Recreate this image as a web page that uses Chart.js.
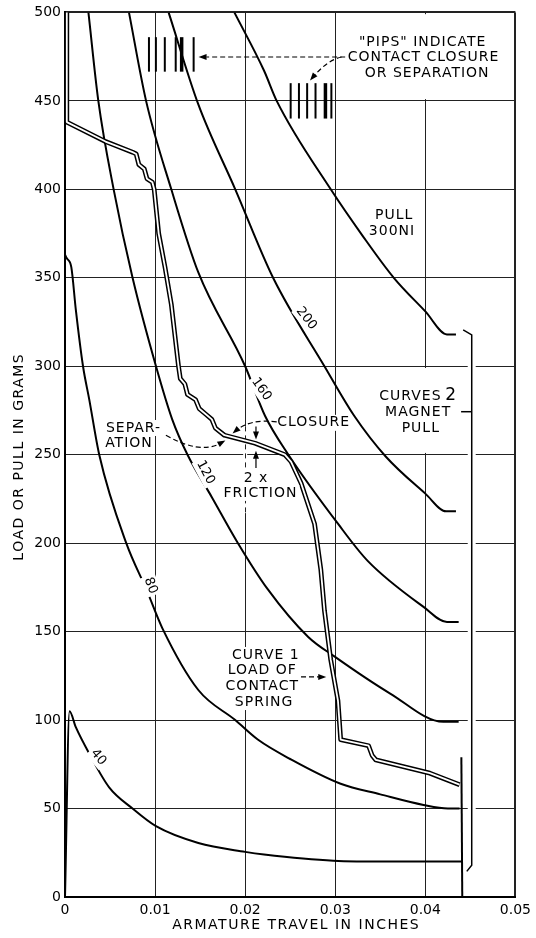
<!DOCTYPE html>
<html>
<head>
<meta charset="utf-8">
<script src="https://cdn.jsdelivr.net/npm/chart.js@4/dist/chart.umd.min.js"></script>
<style>
  html, body { margin: 0; padding: 0; background: #fff; }
  canvas { display: block; }
</style>
</head>
<body>
<canvas id="relayChart" width="536" height="938"></canvas>
<script>
// Relay armature: load of contact spring vs magnet pull (grams) over travel (inches)

const xTickValues = [0, 0.01, 0.02, 0.03, 0.04, 0.05];
const xTickLabels = ["0", "0.01", "0.02", "0.03", "0.04", "0.05"];
const yTickValues = [0, 50, 100, 150, 200, 250, 300, 350, 400, 450, 500];

const pullLevels = ["40", "80", "120", "160", "200", "300"];

// curves 2: magnet pull at each NI, [travel, grams]
const pull40 = [
  [0, 0], [0.0005, 105], [0.0012, 96], [0.0027, 81], [0.0049, 62], [0.0075, 50],
  [0.0101, 40], [0.0148, 30.5], [0.02, 25.5], [0.0221, 24], [0.0298, 20.5],
  [0.036, 20], [0.0441, 20],
];
const pull80 = [
  [0, 363], [0.0002, 361], [0.0007, 356], [0.0012, 332], [0.002, 300],
  [0.0027, 281], [0.0038, 250], [0.0068, 200], [0.0091, 173], [0.0108, 152],
  [0.0148, 117], [0.0189, 100], [0.0214, 89], [0.025, 78], [0.0306, 64],
  [0.035, 58], [0.0398, 52], [0.0425, 50], [0.0438, 50],
];
const pull120 = [
  [0.0026, 500], [0.0037, 450], [0.0054, 400], [0.0075, 350], [0.0101, 300],
  [0.0119, 270], [0.0136, 250], [0.0163, 226], [0.0192, 200], [0.0225, 174],
  [0.027, 147], [0.0299, 136], [0.0361, 115], [0.042, 99], [0.0437, 99],
];
const pull160 = [
  [0.0071, 500], [0.009, 450], [0.0118, 400], [0.0148, 353], [0.02, 300],
  [0.0222, 272], [0.0248, 250], [0.0303, 211], [0.0336, 190], [0.0398, 164],
  [0.0424, 155.5], [0.0437, 155.5],
];
const pull200 = [
  [0.0115, 500], [0.0148, 448], [0.0189, 400], [0.0231, 350], [0.0288, 300],
  [0.0321, 272], [0.0356, 249], [0.04, 228], [0.0423, 218], [0.0434, 218],
];
const pull300 = [
  [0.0188, 500], [0.0221, 467], [0.0235, 450], [0.0295, 400], [0.033, 374],
  [0.0365, 350], [0.04, 331], [0.0424, 318], [0.0434, 318],
];

// curve 1: load of contact spring (drawn as a double line)
const springLoad = [
  [0.0002, 500], [0.0002, 438], [0.0045, 427], [0.0075, 421], [0.0079, 420],
  [0.0082, 414], [0.0088, 411.5], [0.0091, 406], [0.0097, 404], [0.0099, 400],
  [0.0104, 375], [0.0111, 356], [0.0118, 335], [0.0126, 300], [0.0128, 293],
  [0.0133, 290], [0.0136, 284], [0.0145, 281], [0.0149, 276], [0.0156, 273],
  [0.0163, 270], [0.0167, 265], [0.0177, 261], [0.0211, 256.5], [0.0244, 250],
  [0.0251, 246], [0.0262, 234], [0.0277, 211], [0.0284, 185], [0.0288, 162],
  [0.0295, 134], [0.0303, 111], [0.0306, 89], [0.0337, 85.5], [0.0341, 80],
  [0.0345, 77.5], [0.0405, 70], [0.0438, 63.5],
];

const armatureStop = [[0.044, 79], [0.0441, 0]];

const FONT = "'DejaVu Sans', sans-serif";

function toPoints(pairs) {
  return pairs.map(([x, y]) => ({ x, y }));
}

function pullDataset(label, pairs) {
  return {
    label,
    data: toPoints(pairs),
    borderColor: "#000",
    borderWidth: 2,
    pointRadius: 0,
    cubicInterpolationMode: "monotone",
    order: 2,
  };
}

function note(ctx, text, x, y, bg) {
  if (bg) {
    const w = ctx.measureText(text).width;
    ctx.fillStyle = "#fff";
    ctx.fillRect(x - w / 2 - 2, y - 8, w + 4, 16);
  }
  ctx.fillStyle = "#000";
  ctx.fillText(text, x, y);
}

function arrowHead(ctx, x, y, ang) {
  ctx.save();
  ctx.translate(x, y);
  ctx.rotate(ang);
  ctx.beginPath();
  ctx.moveTo(0, 0);
  ctx.lineTo(-8, -3);
  ctx.lineTo(-8, 3);
  ctx.closePath();
  ctx.fillStyle = "#000";
  ctx.fill();
  ctx.restore();
}

const notesPlugin = {
  id: "relayNotes",
  beforeDatasetsDraw(chart) {
    const { ctx } = chart;
    const X = (v) => chart.scales.x.getPixelForValue(v);
    const Y = (v) => chart.scales.y.getPixelForValue(v);
    ctx.save();
    ctx.fillStyle = "#fff";
    // 0.04 gridline is left out behind the two right-hand text boxes
    ctx.fillRect(X(0.04) - 3, Y(499), 6, Y(451) - Y(499));
    ctx.fillRect(X(0.04) - 3, Y(299), 6, Y(251) - Y(299));
    // 0.02 gridline turns dashed around the friction note
    ctx.fillRect(X(0.02) - 2, Y(266), 4, Y(217) - Y(266));
    ctx.strokeStyle = "#222";
    ctx.lineWidth = 1;
    ctx.setLineDash([5, 4]);
    ctx.beginPath();
    ctx.moveTo(Math.round(X(0.02)) + 0.5, Y(266));
    ctx.lineTo(Math.round(X(0.02)) + 0.5, Y(217));
    ctx.stroke();
    ctx.restore();
  },
  afterDatasetsDraw(chart) {
    const { ctx } = chart;
    const X = (v) => chart.scales.x.getPixelForValue(v);
    const Y = (v) => chart.scales.y.getPixelForValue(v);
    ctx.save();
    ctx.textAlign = "center";
    ctx.textBaseline = "middle";
    ctx.font = `14px ${FONT}`;
    ctx.letterSpacing = "1px";

    // pips
    const pipsA = [0.00932, 0.01009, 0.01108, 0.01229, 0.01295, 0.01428];
    const pipsB = [0.02505, 0.02597, 0.02688, 0.02781, 0.02891, 0.02957];
    ctx.strokeStyle = "#000";
    pipsA.forEach((v, i) => {
      ctx.lineWidth = i === 4 ? 3.5 : 2;
      ctx.beginPath();
      ctx.moveTo(X(v), Y(486));
      ctx.lineTo(X(v), Y(466.5));
      ctx.stroke();
    });
    pipsB.forEach((v, i) => {
      ctx.lineWidth = i === 4 ? 3.5 : 2;
      ctx.beginPath();
      ctx.moveTo(X(v), Y(460));
      ctx.lineTo(X(v), Y(440));
      ctx.stroke();
    });

    note(ctx, "\"PIPS\" INDICATE", X(0.0397), Y(483.3));
    note(ctx, "CONTACT CLOSURE", X(0.0398), Y(474.8));
    note(ctx, "OR SEPARATION", X(0.0402), Y(465.8));

    ctx.lineWidth = 1.2;
    ctx.setLineDash([5, 3]);
    ctx.beginPath();
    ctx.moveTo(X(0.0311), Y(474.8));
    ctx.lineTo(X(0.0157), Y(474.8));
    ctx.stroke();
    ctx.beginPath();
    ctx.moveTo(X(0.0307), Y(474.8));
    ctx.quadraticCurveTo(X(0.0291), Y(473), X(0.02755), Y(463.5));
    ctx.stroke();
    ctx.setLineDash([]);
    arrowHead(ctx, X(0.01483), Y(474.8), Math.PI);
    arrowHead(ctx, X(0.0272), Y(461.5), Math.atan2(Y(461.5) - Y(473), X(0.0272) - X(0.0291)));

    note(ctx, "PULL", X(0.03655), Y(385.5));
    note(ctx, "300NI", X(0.0363), Y(376));

    // "CURVES 2" with a larger figure
    ctx.textAlign = "right";
    note(ctx, "CURVES", X(0.0418), Y(283.2));
    ctx.textAlign = "left";
    ctx.font = `17px ${FONT}`;
    note(ctx, "2", X(0.0422), Y(283.6));
    ctx.font = `14px ${FONT}`;
    ctx.textAlign = "center";
    note(ctx, "MAGNET", X(0.0392), Y(274.2));
    note(ctx, "PULL", X(0.0395), Y(265.1));

    // bracket for curves 2
    const bx = X(0.04515);
    ctx.strokeStyle = "#fff";
    ctx.lineWidth = 8;
    ctx.beginPath();
    ctx.moveTo(bx, Y(317));
    ctx.lineTo(bx, Y(19));
    ctx.stroke();
    ctx.strokeStyle = "#000";
    ctx.lineWidth = 1.5;
    ctx.beginPath();
    ctx.moveTo(X(0.0442), Y(320.5));
    ctx.lineTo(bx, Y(317.7));
    ctx.lineTo(bx, Y(18));
    ctx.lineTo(X(0.0446), Y(14.5));
    ctx.stroke();
    ctx.beginPath();
    ctx.moveTo(X(0.04397), Y(274.3));
    ctx.lineTo(bx, Y(274.3));
    ctx.stroke();

    // separation / closure / friction
    note(ctx, "SEPAR-", X(0.0076), Y(265.1), true);
    note(ctx, "ATION", X(0.0071), Y(256.6), true);
    note(ctx, "CLOSURE", X(0.0276), Y(268), true);
    note(ctx, "2 x", X(0.0212), Y(236.9), true);
    note(ctx, "FRICTION", X(0.0217), Y(228.4), true);

    ctx.lineWidth = 1.2;
    ctx.setLineDash([5, 3]);
    ctx.beginPath();
    ctx.moveTo(X(0.0112), Y(261));
    ctx.quadraticCurveTo(X(0.015), Y(250), X(0.0173), Y(256.5));
    ctx.stroke();
    ctx.beginPath();
    ctx.moveTo(X(0.0235), Y(268.5));
    ctx.quadraticCurveTo(X(0.0205), Y(270.5), X(0.019), Y(263.5));
    ctx.stroke();
    ctx.setLineDash([]);
    arrowHead(ctx, X(0.0178), Y(258), Math.atan2(Y(258) - Y(250), X(0.0178) - X(0.015)));
    arrowHead(ctx, X(0.0186), Y(262), Math.atan2(Y(262) - Y(270.5), X(0.0186) - X(0.0205)));

    ctx.lineWidth = 1.2;
    ctx.beginPath();
    ctx.moveTo(X(0.0212), Y(266));
    ctx.lineTo(X(0.0212), Y(262));
    ctx.moveTo(X(0.0212), Y(242.5));
    ctx.lineTo(X(0.0212), Y(248));
    ctx.stroke();
    arrowHead(ctx, X(0.0212), Y(258.6), Math.PI / 2);
    arrowHead(ctx, X(0.0212), Y(252.2), -Math.PI / 2);

    // curve 1 note
    note(ctx, "CURVE 1", X(0.0223), Y(136.8), true);
    note(ctx, "LOAD OF", X(0.0219), Y(128.3), true);
    note(ctx, "CONTACT", X(0.0219), Y(119.3), true);
    note(ctx, "SPRING", X(0.0221), Y(110.2), true);
    ctx.setLineDash([5, 3]);
    ctx.beginPath();
    ctx.moveTo(X(0.0262), Y(124.4));
    ctx.lineTo(X(0.0284), Y(124.4));
    ctx.stroke();
    ctx.setLineDash([]);
    arrowHead(ctx, X(0.0290), Y(124.4), 0);

    // pull labels along the curves
    ctx.font = `13px ${FONT}`;
    ctx.letterSpacing = "0px";
    const tags = [
      [pullLevels[0], 0.0037, 79, 50],
      [pullLevels[1], 0.0095, 176, 70],
      [pullLevels[2], 0.0156, 240, 62],
      [pullLevels[3], 0.0218, 287, 55],
      [pullLevels[4], 0.0268, 327, 52],
    ];
    tags.forEach(([text, tx, ty, deg]) => {
      ctx.save();
      ctx.translate(X(tx), Y(ty));
      ctx.rotate((deg * Math.PI) / 180);
      note(ctx, text, 0, 0, true);
      ctx.restore();
    });
    ctx.restore();
  },
  afterDraw(chart) {
    const { ctx, chartArea } = chart;
    ctx.save();
    ctx.font = `14px ${FONT}`;
    ctx.letterSpacing = "1.5px";
    ctx.fillStyle = "#000";
    ctx.textAlign = "center";
    ctx.textBaseline = "middle";
    ctx.fillText("ARMATURE TRAVEL IN INCHES", (chartArea.left + chartArea.right) / 2 + 6, chart.height - 13);
    ctx.translate(19, (chartArea.top + chartArea.bottom) / 2 + 2);
    ctx.rotate(-Math.PI / 2);
    ctx.fillText("LOAD OR PULL IN GRAMS", 0, 0);
    ctx.restore();
  },
};

const gridWidth = (max) => (c) => (c.tick && c.tick.value === max ? 2 : 1);

new Chart(document.getElementById("relayChart"), {
  type: "line",
  data: {
    datasets: [
      {
        label: "spring gap",
        data: toPoints(springLoad),
        borderColor: "#fff",
        borderWidth: 1.8,
        pointRadius: 0,
        tension: 0,
        borderJoinStyle: "round",
        order: 0,
      },
      {
        label: "Curve 1",
        data: toPoints(springLoad),
        borderColor: "#000",
        borderWidth: 4.8,
        pointRadius: 0,
        tension: 0,
        borderJoinStyle: "round",
        order: 1,
      },
      pullDataset(pullLevels[0], pull40),
      pullDataset(pullLevels[1], pull80),
      pullDataset(pullLevels[2], pull120),
      pullDataset(pullLevels[3], pull160),
      pullDataset(pullLevels[4], pull200),
      pullDataset(pullLevels[5], pull300),
      {
        label: "stop",
        data: toPoints(armatureStop),
        borderColor: "#000",
        borderWidth: 2,
        pointRadius: 0,
        order: 2,
      },
    ],
  },
  options: {
    responsive: false,
    animation: false,
    events: [],
    layout: { padding: { left: 0, right: 15, top: 12, bottom: 0 } },
    plugins: {
      legend: { display: false },
      tooltip: { enabled: false },
    },
    scales: {
      x: {
        type: "linear",
        min: 0,
        max: 0.05,
        afterBuildTicks: (s) => {
          s.ticks = xTickValues.map((value) => ({ value }));
        },
        afterFit: (s) => {
          s.height = 41;
        },
        ticks: {
          color: "#000",
          font: { family: FONT, size: 14 },
          padding: 5,
          maxRotation: 0,
          callback: (v, i) => xTickLabels[i],
        },
        grid: { color: "#222", lineWidth: gridWidth(0.05), drawTicks: false },
        border: { color: "#000", width: 2 },
      },
      y: {
        min: 0,
        max: 500,
        afterBuildTicks: (s) => {
          s.ticks = yTickValues.map((value) => ({ value }));
        },
        afterFit: (s) => {
          s.width = 65;
        },
        ticks: {
          color: "#000",
          font: { family: FONT, size: 14 },
          padding: 4,
        },
        grid: { color: "#222", lineWidth: gridWidth(500), drawTicks: false },
        border: { color: "#000", width: 2 },
      },
    },
  },
  plugins: [notesPlugin],
});
</script>
</body>
</html>
